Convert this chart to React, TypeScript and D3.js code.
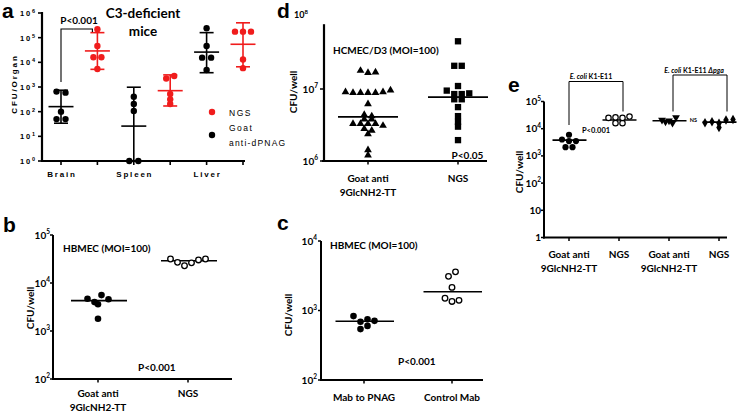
import React from 'react';
import * as d3 from 'd3';

// ---------- Panel a data ----------
const aTissues = ['Brain', 'Spleen', 'Liver'];
const aLegendLabels = ['NGS', 'Goat', 'anti-dPNAG'];
const aGoatValues = [
  [650, 590, 100, 50, 50],
  [400, 205, 107, 1, 1],
  [2.4e5, 4.6e4, 1.55e4, 1.55e4, 4.9e3],
];
const aGoatMean = [160, 26, 2.6e4];
const aGoatLow = [34, 1, 3.8e3];
const aGoatHigh = [740, 980, 1.6e5];
const aNgsValues = [
  [2.2e5, 4.6e4, 1.6e4, 1.6e4, 5.4e3],
  [2.2e3, 2.8e3, 525, 316, 205],
  [1.75e5, 1.75e5, 1.75e5, 1.3e4, 5.8e3],
];
const aNgsMean = [2.9e4, 710, 5.4e4];
const aNgsLow = [5.2e3, 170, 6.6e3];
const aNgsHigh = [1.6e5, 3.1e3, 4e5];
const aTicks = [1, 10, 100, 1e3, 1e4, 1e5, 1e6];

// ---------- Panel b data ----------
const bGroups = [['Goat anti', '9GlcNH2-TT'], ['NGS']];
const bGoatValues = [4700, 4000, 5600, 4600, 3600, 1800];
const bNgsValues = [31600, 26900, 22900, 26300, 30200, 31600];
const bMeans = [4300, 29000];
const bTicks = [100, 1e3, 1e4, 1e5];

// ---------- Panel c data ----------
const cGroups = [['Mab to PNAG'], ['Control Mab']];
const cMabValues = [830, 690, 750, 710, 540, 600];
const cCtrlValues = [1500, 3100, 2150, 1350, 3600, 1400];
const cMeans = [700, 1860];
const cTicks = [100, 1e3, 1e4];

// ---------- Panel d data ----------
const dGroups = [['Goat anti', '9GlcNH2-TT'], ['NGS']];
const dGoatValues = [
  1.8e7, 1.68e7, 1.71e7,
  9.1e6, 8.9e6, 8.9e6, 8.9e6, 8.9e6, 9.1e6, 9.6e6,
  6.2e6,
  4.4e6, 4.2e6,
  3.8e6, 3.8e6,
  3.3e6, 3.3e6, 3.3e6, 3.3e6, 3.1e6,
  2.8e6, 2.65e6,
  2.37e6,
  1.2e6, 1.42e6,
];
const dNgsValues = [
  4.6e7,
  2.1e7, 2.1e7,
  1.1e7,
  9.5e6, 8.5e6, 8.5e6, 8.7e6,
  7.2e6, 7.2e6,
  5.6e6,
  4.2e6,
  3.5e6,
  3.0e6,
  1.95e6,
];
const dMeans = [4.1e6, 7.7e6];
const dTicks = [1e6, 1e7];

// ---------- Panel e data ----------
const eGroups = [['Goat anti', '9GlcNH2-TT'], ['NGS'], ['Goat anti', '9GlcNH2-TT'], ['NGS']];
const eK1GoatValues = [4000, 6000, 3500, 2100, 3500, 2100];
const eK1NgsValues = [2.5e4, 1.6e4, 2.6e4, 1.6e4, 2.5e4, 2.8e4];
const ePgaGoatValues = [2.1e4, 1.8e4, 1.6e4, 1.95e4, 2.6e4];
const ePgaNgsValues = [1.67e4, 1.8e4, 1.1e4, 1.6e4, 2.1e4, 2.2e4];
const eMeans = [3800, 2.1e4, 1.95e4, 1.75e4];
const eTicks = [1, 10, 100, 1e3, 1e4, 1e5];

const FC = "Lato, 'Open Sans', sans-serif";
const FA = "'Liberation Sans', Arial, sans-serif";
const RED = '#f01c1c';

type Pos = { x: number; y: number };

function swarm(values: number[], y: (v: number) => number, cx: number, spacing: number, thresh: number): Pos[] {
  const idx = values.map((_, i) => i).sort((a, b) => y(values[a]) - y(values[b]));
  const rows: number[][] = [];
  let cur: number[] = [];
  let start: number | null = null;
  for (const i of idx) {
    const yy = y(values[i]);
    if (start === null || yy - start > thresh) {
      if (cur.length) rows.push(cur);
      cur = [i];
      start = yy;
    } else cur.push(i);
  }
  if (cur.length) rows.push(cur);
  const pos: Pos[] = values.map(() => ({ x: 0, y: 0 }));
  rows.forEach((r) => {
    r.sort((a, b) => a - b);
    r.forEach((i, k) => {
      pos[i] = { x: cx + (k - (r.length - 1) / 2) * spacing, y: y(values[i]) };
    });
  });
  return pos;
}

const expOf = (v: number) => Math.round(Math.log10(v));

function TickLabel({ x, y, v, size = 10, sup = 6.5, anchor = 'end', family = FC, ls = 0, weight = 'bold', plainSmall = false }: any) {
  const e = expOf(v);
  if (plainSmall && e === 0) return <text x={x} y={y} textAnchor={anchor} fontSize={size} fontWeight={weight} fontFamily={family}>1</text>;
  if (plainSmall && e === 1) return <text x={x} y={y} textAnchor={anchor} fontSize={size} fontWeight={weight} fontFamily={family}>10</text>;
  return (
    <text x={x} y={y} textAnchor={anchor} fontSize={size} fontWeight={weight} fontFamily={family} letterSpacing={ls}>
      10<tspan dy={-size * 0.42} fontSize={sup}>{e}</tspan>
    </text>
  );
}

const triPath = d3.symbol().type(d3.symbolTriangle).size(26)() as string;
const sqPath = d3.symbol().type(d3.symbolSquare).size(40)() as string;
const diaPath = d3.symbol().type(d3.symbolDiamond).size(26)() as string;

function GroupLabel({ x, y, lines, size = 10 }: any) {
  return (
    <g>
      {lines.map((l: string, i: number) => (
        <text key={i} x={x} y={y + i * 14.5} textAnchor="middle" fontSize={size} fontWeight="bold" fontFamily={FC}>{l}</text>
      ))}
    </g>
  );
}

function YLabel({ x, y, text, size = 10, family = FC, ls = 0 }: any) {
  return (
    <text transform={`translate(${x},${y}) rotate(-90)`} textAnchor="middle" dy="0.35em" fontSize={size} fontWeight="bold" fontFamily={family} letterSpacing={ls}>{text}</text>
  );
}

export default function App() {
  // ---------- Panel a ----------
  const yA = d3.scaleLog().domain([1, 1e6]).range([161, 13]);
  const xA = d3.scalePoint<string>().domain(aTissues.flatMap((t) => [t + '|g', t + '|n'])).range([61, 243]);
  const aAxisX = 42;

  const renderErr = (cx: number, mean: number, lo: number, hi: number, color: string) => (
    <g stroke={color} strokeWidth={1.6}>
      <line x1={cx} x2={cx} y1={yA(lo)} y2={yA(hi)} />
      <line x1={cx - 7} x2={cx + 7} y1={yA(lo)} y2={yA(lo)} />
      <line x1={cx - 7} x2={cx + 7} y1={yA(hi)} y2={yA(hi)} />
      <line x1={cx - 12.5} x2={cx + 12.5} y1={yA(mean)} y2={yA(mean)} />
    </g>
  );

  // ---------- Panel b ----------
  const yB = d3.scaleLog().domain([100, 1e5]).range([379, 235]);
  const xB = d3.scalePoint<number>().domain([0, 1]).range([98, 188]);
  // ---------- Panel c ----------
  const yC = d3.scaleLog().domain([100, 1e4]).range([380, 241]);
  const xC = d3.scalePoint<number>().domain([0, 1]).range([364, 452]);
  // ---------- Panel d ----------
  const yD = d3.scaleLog().domain([1e6, 1e8]).range([161, 17]);
  const xD = d3.scalePoint<number>().domain([0, 1]).range([368, 458]);
  // ---------- Panel e ----------
  const yE = d3.scaleLog().domain([1, 1e5]).range([237.5, 101.5]);
  const xE = d3.scalePoint<number>().domain([0, 1, 2, 3]).range([569, 719]);

  const bGoatPos = swarm(bGoatValues, yB, xB(0)!, 7, 8);
  const bNgsPos = swarm(bNgsValues, yB, xB(1)!, 7, 8);
  const cMabPos = swarm(cMabValues, yC, xC(0)!, 7, 6);
  const cCtrlPos = swarm(cCtrlValues, yC, xC(1)!, 7, 6);
  const dGoatPos = swarm(dGoatValues, yD, xD(0)!, 7.5, 4);
  const dNgsPos = swarm(dNgsValues, yD, xD(1)!, 7.5, 4);
  const e1 = swarm(eK1GoatValues, yE, xE(0)!, 7, 4);
  const e2 = swarm(eK1NgsValues, yE, xE(1)!, 7, 4);
  const e3 = swarm(ePgaGoatValues, yE, xE(2)!, 7, 4);
  const e4 = swarm(ePgaNgsValues, yE, xE(3)!, 7, 4);

  return (
    <svg width={747} height={413} style={{ position: 'absolute', left: 0, top: 0, display: 'block', background: '#fff' }}>
      {/* ================= Panel a ================= */}
      <text x={2} y={18} fontSize={21} fontWeight="bold" fontFamily={FA}>a</text>
      <g stroke="#000" strokeWidth={2.2}>
        <line x1={aAxisX} x2={aAxisX} y1={yA(1e6) - 1} y2={yA(1) + 1} />
        <line x1={aAxisX - 1} x2={245} y1={yA(1)} y2={yA(1)} />
        {aTicks.map((t) => (
          <line key={t} x1={aAxisX - 4} x2={aAxisX} y1={yA(t)} y2={yA(t)} strokeWidth={1.6} />
        ))}
        {xA.domain().map((k) => (
          <line key={k} x1={xA(k)} x2={xA(k)} y1={yA(1)} y2={yA(1) + 4} strokeWidth={1.6} />
        ))}
      </g>
      {aTicks.map((t) => (
        <TickLabel key={t} x={20} y={yA(t) + 3} v={t} size={7.5} sup={5.5} anchor="start" family={FA} ls={1.8} />
      ))}
      {aTissues.map((t) => (
        <text key={t} x={xA(t + '|g')! + 1} y={177} textAnchor="middle" fontSize={8} fontWeight="bold" fontFamily={FA} letterSpacing={1.8}>{t}</text>
      ))}
      <YLabel x={14} y={84} text="CFU/Organ" size={8} family={FA} ls={1.9} />
      {aTissues.map((t, i) => {
        const gx = xA(t + '|g')!;
        const nx = xA(t + '|n')!;
        const gp = swarm(aGoatValues[i], yA, gx, 9, 3);
        const np = swarm(aNgsValues[i], yA, nx, 8, 3);
        return (
          <g key={t}>
            {renderErr(gx, aGoatMean[i], aGoatLow[i], aGoatHigh[i], '#000')}
            {renderErr(nx, aNgsMean[i], aNgsLow[i], aNgsHigh[i], RED)}
            {gp.map((p, j) => <circle key={'g' + j} cx={p.x} cy={p.y} r={3.2} fill="#000" />)}
            {np.map((p, j) => <circle key={'n' + j} cx={p.x} cy={p.y} r={3.2} fill={RED} />)}
          </g>
        );
      })}
      {/* bracket */}
      <polyline points={`${xA('Brain|g')},82 ${xA('Brain|g')},29 ${xA('Brain|n')! - 5},29 ${xA('Brain|n')! - 5},32`} fill="none" stroke="#000" strokeWidth={1.1} />
      <text x={79} y={24} textAnchor="middle" fontSize={10} fontWeight="bold" fontFamily={FC}>P&lt;0.001</text>
      <text x={143} y={18} textAnchor="middle" fontSize={13.5} fontWeight="bold" fontFamily={FC}>C3-deficient</text>
      <text x={143} y={36} textAnchor="middle" fontSize={13.5} fontWeight="bold" fontFamily={FC}>mice</text>
      {/* legend */}
      <circle cx={212} cy={112} r={3.2} fill={RED} />
      <text x={229} y={115.5} fontSize={8.5} fontFamily={FA} letterSpacing={1.5}>{aLegendLabels[0]}</text>
      <circle cx={212} cy={135} r={3.2} fill="#000" />
      <text x={229} y={131} fontSize={8.5} fontFamily={FA} letterSpacing={1.5}>{aLegendLabels[1]}</text>
      <text x={229} y={146} fontSize={8.5} fontFamily={FA} letterSpacing={1.2}>{aLegendLabels[2]}</text>

      {/* ================= Panel b ================= */}
      <text x={3} y={232} fontSize={21} fontWeight="bold" fontFamily={FA}>b</text>
      <g stroke="#000" strokeWidth={2}>
        <line x1={53} x2={53} y1={yB(1e5)} y2={yB(100) + 1} />
        <line x1={52} x2={232} y1={yB(100)} y2={yB(100)} />
        {bTicks.map((t) => <line key={t} x1={50} x2={53} y1={yB(t)} y2={yB(t)} strokeWidth={1.5} />)}
        {[0, 1].map((g) => <line key={g} x1={xB(g)} x2={xB(g)} y1={yB(100)} y2={yB(100) + 3.5} strokeWidth={1.5} />)}
      </g>
      {bTicks.map((t) => <TickLabel key={t} x={50} y={yB(t) + 3.5} v={t} />)}
      <YLabel x={30} y={308} text="CFU/well" />
      <text x={63} y={251.5} fontSize={10} fontWeight="bold" fontFamily={FC}>HBMEC (MOI=100)</text>
      {[0, 1].map((g) => (
        <line key={g} x1={xB(g)! - 27} x2={xB(g)! + 29} y1={yB(bMeans[g])} y2={yB(bMeans[g])} stroke="#000" strokeWidth={1.6} />
      ))}
      {bGoatPos.map((p, i) => <circle key={i} cx={p.x} cy={p.y} r={3.3} fill="#000" />)}
      {bNgsPos.map((p, i) => <circle key={i} cx={p.x} cy={p.y} r={2.8} fill="#fff" stroke="#000" strokeWidth={1.3} />)}
      <text x={138} y={370.5} fontSize={10} fontWeight="bold" fontFamily={FC}>P&lt;0.001</text>
      {bGroups.map((l, g) => <GroupLabel key={g} x={xB(g)} y={396.5} lines={l} />)}

      {/* ================= Panel c ================= */}
      <text x={277} y={230} fontSize={21} fontWeight="bold" fontFamily={FA}>c</text>
      <g stroke="#000" strokeWidth={2}>
        <line x1={321} x2={321} y1={yC(1e4)} y2={yC(100) + 1} />
        <line x1={320} x2={483} y1={yC(100)} y2={yC(100)} />
        {cTicks.map((t) => <line key={t} x1={318} x2={321} y1={yC(t)} y2={yC(t)} strokeWidth={1.5} />)}
        {[0, 1].map((g) => <line key={g} x1={xC(g)} x2={xC(g)} y1={yC(100)} y2={yC(100) + 3.5} strokeWidth={1.5} />)}
      </g>
      {cTicks.map((t) => <TickLabel key={t} x={317} y={yC(t) + 3.5} v={t} />)}
      <YLabel x={288} y={315} text="CFU/well" />
      <text x={330} y={248.5} fontSize={10} fontWeight="bold" fontFamily={FC}>HBMEC (MOI=100)</text>
      {[0, 1].map((g) => (
        <line key={g} x1={xC(g)! - 28.5} x2={xC(g)! + 30} y1={yC(cMeans[g])} y2={yC(cMeans[g])} stroke="#000" strokeWidth={1.6} />
      ))}
      {cMabPos.map((p, i) => <circle key={i} cx={p.x} cy={p.y} r={3.3} fill="#000" />)}
      {cCtrlPos.map((p, i) => <circle key={i} cx={p.x} cy={p.y} r={2.8} fill="#fff" stroke="#000" strokeWidth={1.3} />)}
      <text x={398} y={364.5} fontSize={10} fontWeight="bold" fontFamily={FC}>P&lt;0.001</text>
      {cGroups.map((l, g) => <GroupLabel key={g} x={xC(g)} y={400.5} lines={l} />)}

      {/* ================= Panel d ================= */}
      <text x={277} y={18} fontSize={21} fontWeight="bold" fontFamily={FA}>d</text>
      <g stroke="#000" strokeWidth={2.2}>
        <line x1={324} x2={324} y1={yD(10 ** 7.9)} y2={yD(1e6) + 1} />
        <line x1={322} x2={487} y1={yD(1e6)} y2={yD(1e6)} />
        {dTicks.map((t) => <line key={t} x1={320} x2={324} y1={yD(t)} y2={yD(t)} strokeWidth={1.5} />)}
        {[0, 1].map((g) => <line key={g} x1={xD(g)} x2={xD(g)} y1={yD(1e6)} y2={yD(1e6) + 3.5} strokeWidth={1.5} />)}
      </g>
      {dTicks.map((t) => <TickLabel key={t} x={318} y={yD(t) + 3.5} v={t} />)}
      <TickLabel x={308} y={yD(1e8) + 1} v={1e8} size={9} sup={6} />
      <YLabel x={293} y={92} text="CFU/well" />
      <text x={333} y={53.5} fontSize={10} fontWeight="bold" fontFamily={FC}>HCMEC/D3 (MOI=100)</text>
      {[0, 1].map((g) => (
        <line key={g} x1={xD(g)! - 30} x2={xD(g)! + 30} y1={yD(dMeans[g])} y2={yD(dMeans[g])} stroke="#000" strokeWidth={1.6} />
      ))}
      {dGoatPos.map((p, i) => <path key={i} d={triPath} transform={`translate(${p.x},${p.y})`} fill="#000" />)}
      {dNgsPos.map((p, i) => <path key={i} d={sqPath} transform={`translate(${p.x},${p.y})`} fill="#000" />)}
      <text x={467.5} y={158.5} textAnchor="middle" fontSize={10} fontWeight="bold" fontFamily={FC}>P&lt;0.05</text>
      {dGroups.map((l, g) => <GroupLabel key={g} x={xD(g)} y={181.5} lines={l} />)}

      {/* ================= Panel e ================= */}
      <text x={508} y={92} fontSize={21} fontWeight="bold" fontFamily={FA}>e</text>
      <g stroke="#000" strokeWidth={2}>
        <line x1={544} x2={544} y1={yE(1e5)} y2={yE(1) + 1} />
        <line x1={543} x2={727} y1={yE(1)} y2={yE(1)} />
        {eTicks.map((t) => <line key={t} x1={541} x2={544} y1={yE(t)} y2={yE(t)} strokeWidth={1.5} />)}
        {[0, 1, 2, 3].map((g) => <line key={g} x1={xE(g)} x2={xE(g)} y1={yE(1)} y2={yE(1) + 3.5} strokeWidth={1.5} />)}
      </g>
      {eTicks.map((t) => <TickLabel key={t} x={541} y={yE(t) + 3.5} v={t} plainSmall />)}
      <YLabel x={519} y={172} text="CFU/well" />
      {[0, 1, 2, 3].map((g) => (
        <line key={g} x1={xE(g)! - 16.5} x2={xE(g)! + 17.5} y1={yE(eMeans[g])} y2={yE(eMeans[g])} stroke="#000" strokeWidth={1.6} />
      ))}
      {e1.map((p, i) => <circle key={i} cx={p.x} cy={p.y} r={3.1} fill="#000" />)}
      {e2.map((p, i) => <circle key={i} cx={p.x} cy={p.y} r={2.7} fill="#fff" stroke="#000" strokeWidth={1.2} />)}
      {e3.map((p, i) => <path key={i} d={triPath} transform={`translate(${p.x},${p.y}) rotate(180)`} fill="#000" />)}
      {e4.map((p, i) => <path key={i} d={diaPath} transform={`translate(${p.x},${p.y})`} fill="#000" />)}
      {/* brackets */}
      <polyline points={`${xE(0)},125 ${xE(0)},81.5 ${xE(1)! + 4},81.5 ${xE(1)! + 4},111.5`} fill="none" stroke="#000" strokeWidth={1} />
      <polyline points={`${xE(2)! + 4},111.5 ${xE(2)! + 4},75 ${xE(3)! + 8},75 ${xE(3)! + 8},111.5`} fill="none" stroke="#000" strokeWidth={1} />
      <text x={591} y={79} textAnchor="middle" fontSize={7} fontWeight="bold" fontFamily={FC}>
        <tspan fontStyle="italic">E. coli</tspan> K1-E11
      </text>
      <text x={694} y={72.5} textAnchor="middle" fontSize={7} fontWeight="bold" fontFamily={FC}>
        <tspan fontStyle="italic">E. coli</tspan> K1-E11 <tspan fontStyle="italic">Δpga</tspan>
      </text>
      <text x={596} y={133} textAnchor="middle" fontSize={7.5} fontWeight="bold" fontFamily={FC}>P&lt;0.001</text>
      <text x={693.5} y={122} textAnchor="middle" fontSize={5.5} fontWeight="bold" fontFamily={FC}>NS</text>
      {eGroups.map((l, g) => <GroupLabel key={g} x={xE(g)} y={257.5} lines={l} size={10} />)}
    </svg>
  );
}
